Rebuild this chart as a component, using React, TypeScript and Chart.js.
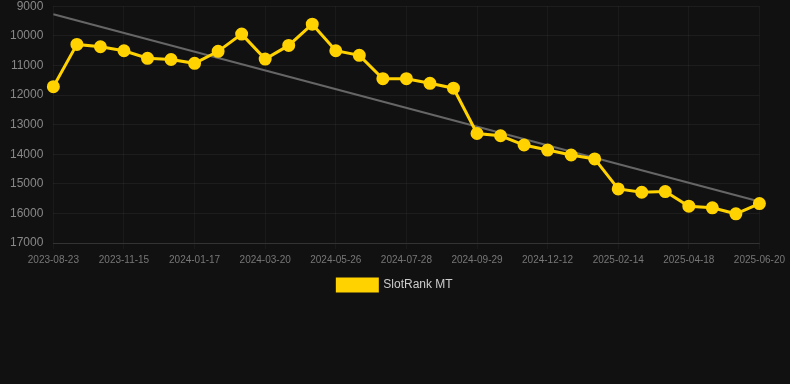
import React, { useEffect, useRef } from "react";
import { Chart, registerables } from "chart.js";

Chart.register(...registerables);

const labels: string[] = [
  "2023-08-23", "2023-09-20", "2023-10-18",
  "2023-11-15", "2023-12-06", "2023-12-27",
  "2024-01-17", "2024-02-07", "2024-02-28",
  "2024-03-20", "2024-04-12", "2024-05-04",
  "2024-05-26", "2024-06-16", "2024-07-07",
  "2024-07-28", "2024-08-18", "2024-09-08",
  "2024-09-29", "2024-10-24", "2024-11-18",
  "2024-12-12", "2025-01-02", "2025-01-24",
  "2025-02-14", "2025-03-07", "2025-03-28",
  "2025-04-18", "2025-05-09", "2025-05-30",
  "2025-06-20",
];

const rankValues: number[] = [
  11720, 10290, 10370, 10505, 10760, 10800, 10930, 10525, 9943, 10785,
  10325, 9606, 10505, 10660, 11450, 11450, 11605, 11770, 13300, 13377,
  13690, 13860, 14027, 14160, 15172, 15285, 15263, 15757, 15812, 16014,
  15667,
];

const trendValues: (number | null)[] = [
  9270, null, null, null, null, null, null, null, null, null,
  null, null, null, null, null, null, null, null, null, null,
  null, null, null, null, null, null, null, null, null, null,
  15600,
];

const yTicks = { min: 9000, max: 17000, step: 1000 };

export default function App() {
  const ref = useRef<HTMLCanvasElement | null>(null);
  useEffect(() => {
    if (!ref.current) return;
    const chart = new Chart(ref.current, {
      type: "line",
      data: {
        labels,
        datasets: [
          {
            label: "SlotRank MT",
            data: rankValues,
            borderColor: "#FFD200",
            backgroundColor: "#FFD200",
            borderWidth: 3,
            pointRadius: 5,
            pointBackgroundColor: "#FFD200",
            pointBorderColor: "#FFD200",
            tension: 0,
          },
          {
            label: "trend",
            data: trendValues,
            borderColor: "#666666",
            backgroundColor: "#666666",
            borderWidth: 2,
            pointRadius: 0,
            spanGaps: true,
          },
        ],
      },
      options: {
        animation: false,
        responsive: false,
        maintainAspectRatio: false,
        layout: { padding: { left: 0, right: 0, top: 0, bottom: 83 } },
        scales: {
          x: {
            offset: false,
            grid: {
              color: (ctx: any) => (ctx.index % 3 === 0 ? "rgba(255,255,255,0.04)" : "rgba(0,0,0,0)"),
              drawTicks: true,
              tickLength: 6,
            },
            border: { color: "rgba(255,255,255,0.1)" },
            ticks: {
              color: "#777",
              padding: 5,
              font: { size: 10, family: "Arial, Liberation Sans, sans-serif" },
              maxRotation: 0,
              autoSkip: false,
              callback: (_v: any, i: number) => (i % 3 === 0 ? labels[i] : ""),
            },
          },
          y: {
            reverse: true,
            min: yTicks.min,
            max: yTicks.max,
            grid: { color: "rgba(255,255,255,0.05)", drawTicks: false },
            border: { display: false },
            ticks: {
              stepSize: yTicks.step,
              color: "#888",
              padding: 10,
              font: { size: 12, family: "Arial, Liberation Sans, sans-serif" },
              callback: (v: any) => String(v),
            },
          },
        },
        plugins: {
          legend: {
            position: "bottom",
            labels: {
              color: "#ccc",
              boxWidth: 40,
              boxHeight: 12,
              padding: 8,
              font: { size: 12, family: "Arial, Liberation Sans, sans-serif" },
              filter: (item: any) => item.text !== "trend",
            },
          },
          tooltip: { enabled: false },
        },
      },
    });
    return () => chart.destroy();
  }, []);
  return (
    <div style={{ position: "fixed", left: 0, top: 0, width: 790, height: 384, overflow: "hidden", background: "#111111" }}>
      <canvas ref={ref} width={790} height={395} style={{ display: "block", marginTop: -11 }} />
    </div>
  );
}
